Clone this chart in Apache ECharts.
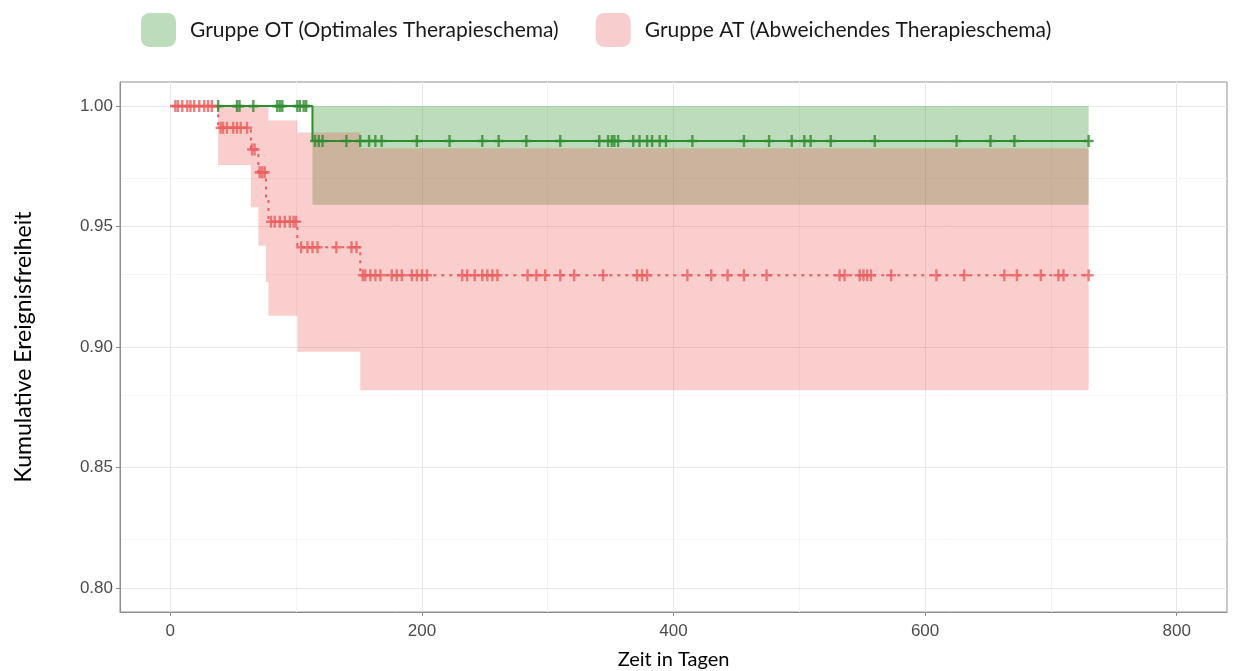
<!DOCTYPE html>
<html>
<head>
<meta charset="utf-8">
<script src="https://cdn.jsdelivr.net/npm/echarts@6/dist/echarts.min.js"></script>
<style>
  html, body { margin: 0; padding: 0; background: #fff; }
  #chart { width: 1233px; height: 671px; }
</style>
</head>
<body>
<div id="chart"></div>
<script>
// Gruppe OT: step times, survival and CI
const otName = 'Gruppe OT (Optimales Therapieschema)';
const otTimes = [0, 113, 730];
const otSurv = [1.0, 0.9855, 0.9855];
const otLower = [1.0, 0.959, 0.959];
const otUpper = [1.0, 1.0, 1.0];
const otCensored = [38, 53, 55, 66, 85, 87, 89, 101, 103, 106, 108,
  115, 118, 121, 140, 151, 158, 163, 168, 196, 222, 248, 261, 283, 310, 341, 348, 351, 353, 356,
  368, 373, 379, 383, 389, 394, 415, 456, 476, 494, 504, 509, 525, 560, 625, 652, 671, 730];

// Gruppe AT
const atName = 'Gruppe AT (Abweichendes Therapieschema)';
const atTimes = [0, 38, 64, 70, 76, 78, 101, 151, 730];
const atSurv = [1.0, 0.991, 0.982, 0.9725, 0.962, 0.952, 0.9414, 0.9298, 0.9298];
const atLower = [1.0, 0.9755, 0.958, 0.942, 0.927, 0.913, 0.898, 0.882, 0.882];
const atUpper = [1.0, 1.0, 1.0, 1.0, 1.0, 0.994, 0.989, 0.9825, 0.9825];
const atCensored = [4, 6, 9.5, 13.5, 16, 19, 23, 27, 30, 33,
  40, 42, 45, 50, 53, 56, 61, 65, 67, 71, 73, 75, 80, 83, 87, 91, 95, 98, 100,
  104, 109, 113, 117, 132, 144, 148,
  153, 155, 159, 163, 167, 176, 180, 184, 192, 196, 200, 204, 232, 236, 242, 248, 252, 256, 260,
  284, 291, 298, 310, 321, 344, 371, 375, 379, 411, 430, 443, 456, 474, 532, 536, 548, 551, 554, 557,
  573, 609, 631, 663, 673, 692, 706, 710, 730];

// axes
const xLabels = [0, 200, 400, 600, 800];
const xMinor = [100, 300, 500, 700];
const yLabels = [0.8, 0.85, 0.9, 0.95, 1.0];
const yMinor = [0.825, 0.875, 0.925, 0.975];

const greenLine = '#2e8b2e';
const redLine = '#ee5e5e';
const axisGrey = '#8f8f8f';
const plusPath = 'path://M3.8,0H6.2V3.9H10V6.1H6.2V10H3.8V6.1H0V3.9H3.8Z';

function stepData(times, surv) {
  return times.map((t, i) => [t, surv[i]]);
}

function survAt(times, surv, t) {
  let s = surv[0];
  times.forEach((tt, i) => { if (tt <= t) s = surv[i]; });
  return s;
}

function ribbon(name, times, lower, upper, fill) {
  return {
    name: name,
    type: 'custom',
    silent: true,
    z: 1,
    data: [[times[0], lower[0]]],
    renderItem: function (params, api) {
      const top = [];
      const bottom = [];
      for (let i = 0; i < times.length - 1; i++) {
        top.push(api.coord([times[i], upper[i]]), api.coord([times[i + 1], upper[i]]));
        bottom.push(api.coord([times[i], lower[i]]), api.coord([times[i + 1], lower[i]]));
      }
      return {
        type: 'polygon',
        shape: { points: top.concat(bottom.reverse()) },
        style: { fill: fill },
      };
    },
  };
}

const major = { color: '#e8e8e8', width: 1, type: 'solid' };
const minor = { color: '#f4f4f4', width: 1, type: 'solid' };
const gridLines = [].concat(
  xLabels.map((v) => ({ xAxis: v, lineStyle: major })),
  xMinor.map((v) => ({ xAxis: v, lineStyle: minor })),
  yLabels.map((v) => ({ yAxis: v, lineStyle: major })),
  yMinor.map((v) => ({ yAxis: v, lineStyle: minor })),
);

const chart = echarts.init(document.getElementById('chart'), null, { renderer: 'canvas' });
chart.setOption({
  animation: false,
  backgroundColor: '#fff',
  legend: {
    left: 141,
    top: 13,
    padding: 0,
    icon: 'roundRect',
    itemWidth: 35,
    itemHeight: 34,
    itemGap: 37,
    selectedMode: false,
    textStyle: { fontFamily: 'Lato', fontSize: 21, color: '#1a1a1a', padding: [0, 0, 0, 9] },
    data: [
      { name: otName, itemStyle: { color: '#bcdcbc' } },
      { name: atName, itemStyle: { color: '#f8cdcd' } },
    ],
  },
  grid: {
    left: 120, right: 6, top: 82, bottom: 59,
    outerBoundsMode: 'none',
    show: true, borderColor: axisGrey, borderWidth: 1, backgroundColor: 'transparent',
  },
  xAxis: {
    type: 'value',
    min: -40,
    max: 840,
    name: 'Zeit in Tagen',
    nameLocation: 'middle',
    nameGap: 38,
    nameTextStyle: { fontFamily: 'Lato', fontSize: 20, color: '#000' },
    axisLine: { show: true, onZero: false, lineStyle: { color: axisGrey } },
    axisTick: { show: true, length: 4, customValues: xLabels, lineStyle: { color: axisGrey } },
    axisLabel: { customValues: xLabels, margin: 11, fontFamily: 'Liberation Sans', fontSize: 17, color: '#4d4d4d' },
    splitLine: { show: false },
  },
  yAxis: {
    type: 'value',
    min: 0.79,
    max: 1.01,
    name: 'Kumulative Ereignisfreiheit',
    nameLocation: 'middle',
    nameGap: 85,
    nameTextStyle: { fontFamily: 'Lato', fontSize: 23, color: '#000' },
    axisLine: { show: true, onZero: false, lineStyle: { color: axisGrey } },
    axisTick: { show: true, length: 4, customValues: yLabels, lineStyle: { color: axisGrey } },
    axisLabel: {
      customValues: yLabels, margin: 7, fontFamily: 'Liberation Sans', fontSize: 17, color: '#4d4d4d',
      formatter: (v) => v.toFixed(2),
    },
    splitLine: { show: false },
  },
  series: [
    {
      type: 'scatter',
      silent: true,
      z: 0,
      symbolSize: 0,
      data: [[0, 1]],
      markLine: {
        silent: true, z: 0, symbol: 'none', label: { show: false }, animation: false, data: gridLines,
      },
    },
    ribbon(otName, otTimes, otLower, otUpper, 'rgba(34,139,34,0.3)'),
    ribbon(atName, atTimes, atLower, atUpper, 'rgba(240,80,80,0.28)'),
    {
      type: 'line',
      step: 'end',
      z: 2,
      showSymbol: false,
      silent: true,
      data: stepData(otTimes, otSurv),
      lineStyle: { color: greenLine, width: 2 },
    },
    {
      type: 'line',
      step: 'end',
      z: 2,
      showSymbol: false,
      silent: true,
      data: stepData(atTimes, atSurv),
      lineStyle: { color: redLine, width: 2, type: [3, 5] },
    },
    {
      type: 'scatter',
      z: 3,
      silent: true,
      symbol: plusPath,
      symbolSize: [10, 12],
      itemStyle: { color: greenLine },
      data: otCensored.map((t) => [t, survAt(otTimes, otSurv, t)]),
    },
    {
      type: 'scatter',
      z: 3,
      silent: true,
      symbol: plusPath,
      symbolSize: [10, 12],
      itemStyle: { color: redLine },
      data: atCensored.map((t) => [t, survAt(atTimes, atSurv, t)]),
    },
  ],
});
</script>
</body>
</html>
